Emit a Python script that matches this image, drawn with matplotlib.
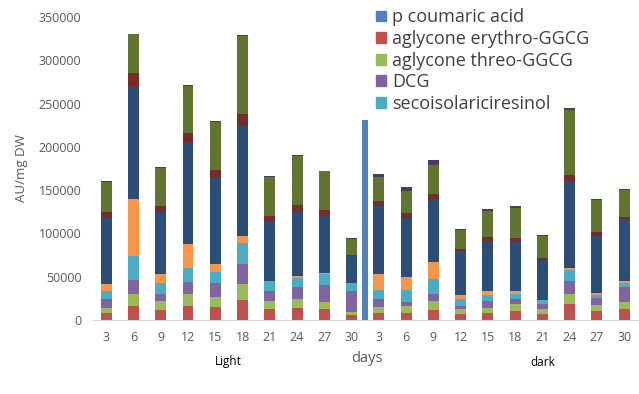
import numpy as np
import matplotlib
matplotlib.use('Agg')
import matplotlib.pyplot as plt
from matplotlib.patches import Patch

plt.rcParams['font.family'] = ['Open Sans', 'DejaVu Sans']

# day labels for the light and dark series
days_light = ['3', '6', '9', '12', '15', '18', '21', '24', '27', '30']
days_dark = ['3', '6', '9', '12', '15', '18', '21', '24', '27', '30']
labels = days_light + days_dark

# stacked segments, bottom to top (light 10 bars, then dark 10 bars)
erythro = [8400, 16500, 11200, 15800, 15000, 23100, 12700, 13900, 12300, 5800,
           7700, 8500, 11500, 6500, 8500, 10000, 7300, 18100, 10800, 12300]
threo = [5000, 13500, 11100, 13800, 11600, 18100, 8900, 10000, 8500, 3100,
         6900, 8000, 10100, 5800, 5700, 8100, 5000, 12300, 6900, 8100]
dcg = [11100, 16600, 7300, 14300, 16500, 23100, 12200, 14200, 19200, 25000,
       10000, 3900, 8000, 4200, 7400, 6100, 5800, 14600, 7700, 17300]
seco = [8500, 27700, 13500, 16500, 12700, 25000, 10900, 10700, 13500, 8800,
        10400, 14600, 17400, 7400, 7300, 6200, 5000, 12300, 3900, 5400]
s_orange = [8800, 65000, 10400, 27000, 8500, 8000, 700, 1700, 1100, 0,
            18100, 15000, 19600, 5400, 5000, 3100, 0, 3100, 1900, 1900]
s_navy = [77400, 130100, 70800, 117400, 99300, 127100, 69300, 75400, 66600, 31600,
          78100, 68100, 72700, 50000, 57700, 56600, 46600, 100500, 66100, 72000]
s_darkred = [5400, 16200, 7300, 10700, 9200, 13100, 5400, 7200, 6200, 800,
             5800, 5100, 6200, 3100, 4200, 4900, 2300, 6900, 4700, 1900]
s_olive = [35000, 44300, 43900, 54300, 55500, 90800, 45000, 56600, 44200, 18400,
           27700, 25800, 33500, 21100, 30400, 34300, 24600, 75000, 36900, 31200]
s_plum = [1200, 800, 1200, 1600, 1100, 1100, 1200, 800, 800, 1200,
          3500, 4600, 5400, 1600, 1600, 2000, 1200, 2000, 800, 1200]

# p coumaric acid, one thin bar between the groups
coumaric = 231000

series = [erythro, threo, dcg, seco, s_orange, s_navy, s_darkred, s_olive, s_plum]
colors = ['#C0504D', '#9BBB59', '#8064A2', '#4BACC6', '#F79646',
          '#2C4D75', '#772C2A', '#5F7530', '#4D3B62']

fig = plt.figure(figsize=(6.39, 3.94), dpi=100)
ax = fig.add_axes([0.145, 0.188, 0.853, 0.769])

x = np.arange(len(labels))
bottom = np.zeros(len(labels))
for vals, c in zip(series, colors):
    ax.bar(x, vals, 0.4, bottom=bottom, color=c)
    bottom += np.array(vals)

ax.bar([9.5], [coumaric], 0.21, color='#4F81BD')

ax.set_xlim(-0.5, 19.5)
ax.set_ylim(0, 350000)
ax.set_yticks(np.arange(0, 350001, 50000))
ax.set_xticks(x)
ax.set_xticklabels(labels)
ax.tick_params(length=0, labelsize=9, colors='#595959', pad=8)
ax.tick_params(axis='y', pad=8)
for s in ['top', 'right', 'left']:
    ax.spines[s].set_visible(False)
ax.spines['bottom'].set_color('#D9D9D9')
ax.set_ylabel('AU/mg DW', fontsize=9.5, color='#595959')
ax.yaxis.set_label_coords(-0.119, 0.5)

fig.text(228 / 639, 1 - 362 / 394, 'Light', fontsize=8.5, ha='center', va='center', color='black')
fig.text(367 / 639, 1 - 358 / 394, 'days', fontsize=10.5, ha='center', va='center', color='#595959')
fig.text(543 / 639, 1 - 362 / 394, 'dark', fontsize=8.5, ha='center', va='center', color='black')

handles = [Patch(color='#4F81BD'), Patch(color=colors[0]), Patch(color=colors[1]),
           Patch(color=colors[2]), Patch(color=colors[3])]
names = ['p coumaric acid', 'aglycone erythro-GGCG', 'aglycone threo-GGCG',
         'DCG', 'secoisolariciresinol']
leg = fig.legend(handles, names, loc='upper left', bbox_to_anchor=(0.563, 1.02),
                 frameon=False, fontsize=13, handlelength=0.55, handleheight=0.55,
                 handletextpad=0.35, labelspacing=0.2)
for t in leg.get_texts():
    t.set_color('#404040')

fig.savefig('out.png', dpi=100)
